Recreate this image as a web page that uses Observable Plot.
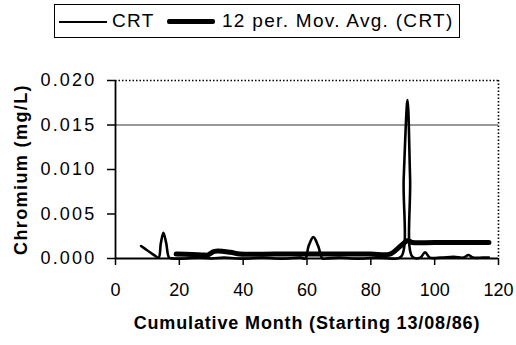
<!DOCTYPE html>
<html>
<head>
<meta charset="utf-8">
<script src="https://cdn.jsdelivr.net/npm/d3@7"></script>
<script src="https://cdn.jsdelivr.net/npm/@observablehq/plot@0.6"></script>
<style>
  body { margin: 0; background: #fff; font-family: "Liberation Sans", Arial, sans-serif; }
  #wrap { position: relative; width: 516px; height: 345px; overflow: hidden; }
  #legend { position: absolute; left: 54px; top: 4px; height: 34px; width: 406px; border: 1px solid #000;
            box-sizing: border-box; font-size: 19px; color: #000; white-space: nowrap; }
  #legend .sw { position: absolute; background: #000; }
  #legend .lb { position: absolute; top: 5px; line-height: 22px; letter-spacing: 1.3px; }
  #chart { position: absolute; left: 0; top: 40px; }
</style>
</head>
<body>
<div id="wrap">
  <div id="legend">
    <span class="sw" style="left:4px;top:16px;width:48px;height:2px"></span>
    <span class="lb" style="left:57px">CRT</span>
    <span class="sw" style="left:112px;top:14px;width:48px;height:5px;border-radius:2px"></span>
    <span class="lb" style="left:167px">12 per. Mov. Avg. (CRT)</span>
  </div>
  <div id="chart"></div>
</div>
<script>
const crtMonth = [8, 10, 12, 13.5, 14.2, 15, 15.9, 16.8, 18, 22, 26, 30, 34, 38, 42, 46, 50, 54, 58, 59.5, 60.5, 62, 63.5, 64.8, 66, 70, 74, 78, 82, 86, 89.5, 90.3, 91.5, 92.3, 93, 95.5, 97, 98.5, 102, 106, 109, 110.6, 112, 115, 117];
const crtValue = [0.0014, 0.0009, 0.0004, 0.0001, 0.0017, 0.0029, 0.0017, 0.0001, 0, 0, 0.0001, 0, 0.0001, 0, 0, 0.0001, 0, 0, 0.0001, 0, 0.0014, 0.0024, 0.0014, 0, 0, 0.0001, 0, 0, 0.0001, 0, 0.0002, 0.009, 0.0178, 0.009, 0.0002, 0.0001, 0.0007, 0.0001, 0.0001, 0.0002, 0.0001, 0.0004, 0.0001, 0.0001, 0.0001];
const maMonth = [19, 27, 29, 31, 36, 39, 50, 60, 70, 80, 86, 89.3, 91.5, 93, 100, 117];
const maValue = [0.0005, 0.0004, 0.0004, 0.0008, 0.0007, 0.0005, 0.0005, 0.0005, 0.0005, 0.0005, 0.0005, 0.0014, 0.0020, 0.0018, 0.0018, 0.0018];
const xTicks = [0, 20, 40, 60, 80, 100, 120];
const yTicks = [0, 0.005, 0.010, 0.015, 0.020];
const limitLine = [0.015];
const xTitle = "Cumulative Month (Starting 13/08/86)";
const yTitle = "Chromium (mg/L)";

const crt = crtMonth.map((m, i) => ({month: m, value: crtValue[i]}));
const ma = maMonth.map((m, i) => ({month: m, value: maValue[i]}));

const chart = Plot.plot({
  width: 516,
  height: 305,
  marginTop: 40,
  marginBottom: 87,
  marginLeft: 115,
  marginRight: 18,
  style: {fontFamily: "Liberation Sans, Arial, sans-serif", fontSize: "18px", color: "#000", background: "#fff", overflow: "visible"},
  x: {domain: [0, 120]},
  y: {domain: [0, 0.02]},
  marks: [
    Plot.ruleY(limitLine, {stroke: "#333", strokeWidth: 1.2}),
    Plot.ruleY([0.02], {stroke: "#000", strokeWidth: 1.6, strokeDasharray: "1.5,2"}),
    Plot.ruleX([120], {stroke: "#000", strokeWidth: 1.6, strokeDasharray: "1.5,2"}),
    Plot.axisX({ticks: xTicks, tickSize: 7, tickPadding: 18, label: null, fontSize: 18, strokeWidth: 1.5, tickFormat: d => String(d)}),
    Plot.axisY({ticks: yTicks, tickSize: 8, tickPadding: 11, label: null, fontSize: 18, strokeWidth: 1.5, tickFormat: d3.format(".3f")}),
    Plot.line(crt, {x: "month", y: "value", stroke: "#000", strokeWidth: 2.6, curve: "catmull-rom"}),
    Plot.line(ma, {x: "month", y: "value", stroke: "#000", strokeWidth: 5, curve: "catmull-rom"}),
    Plot.ruleY([0], {stroke: "#000", strokeWidth: 1.8}),
    Plot.ruleX([0], {stroke: "#000", strokeWidth: 1.8}),
    Plot.text([xTitle], {frameAnchor: "bottom", dy: 70, fontWeight: "bold", fontSize: 18, text: d => d}),
    Plot.text([yTitle], {frameAnchor: "left", dx: -94, rotate: -90, textAnchor: "middle", fontWeight: "bold", fontSize: 18, text: d => d})
  ]
});
d3.select(chart).selectAll('g[aria-label="text"] text').each(function() {
  const t = this.textContent;
  if (t === xTitle) this.style.letterSpacing = "0.85px";
  if (t === yTitle) this.style.letterSpacing = "1.4px";
});
d3.select(chart).selectAll('g[aria-label="y-axis tick label"] text').each(function() {
  this.style.letterSpacing = "2.2px";
});
document.getElementById("chart").append(chart);
</script>
</body>
</html>
